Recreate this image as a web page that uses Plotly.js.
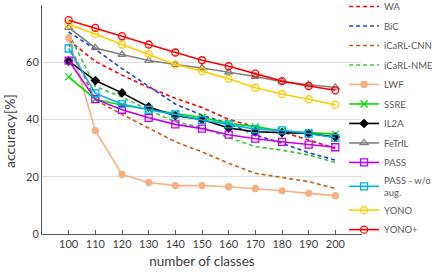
<!DOCTYPE html>
<html><head><meta charset="utf-8">
<script src="https://cdn.plot.ly/plotly-3.0.1.min.js"></script>
<style>html,body{margin:0;padding:0;background:#fff}#chart{width:432px;height:272px}</style>
</head><body><div id="chart"></div>
<script>
const classes = [100,110,120,130,140,150,160,170,180,190,200];
const WA       = [67.7,60.3,55.5,51.2,47.4,44.2,40.0,37.5,35.7,32.8,29.9];
const BiC      = [70.6,64.5,57.8,51.7,45.4,41.5,38.6,34.6,31.7,28.4,25.8];
const iCaRLCNN = [66.5,46.8,41.8,36.9,32.2,28.7,24.7,21.2,19.7,18.3,15.9];
const iCaRLNME = [70.0,51.5,47.9,43.3,39.2,37.2,33.7,30.5,29.3,27.6,25.0];
const LWF      = [68.5,36.1,20.8,18.0,16.9,16.9,16.5,15.9,15.1,14.2,13.4];
const SSRE     = [54.9,47.1,45.0,43.6,42.0,40.7,38.7,37.5,36.0,35.5,34.9];
const IL2A     = [60.4,53.6,49.3,44.4,41.3,40.0,37.0,35.7,35.4,35.1,33.9];
const FeTrIL   = [72.1,65.0,62.7,60.6,59.2,58.0,56.5,55.0,53.2,52.1,51.2];
const PASS     = [60.6,47.1,43.4,40.6,38.3,36.8,34.7,33.3,32.2,31.2,30.3];
const PASSwo   = [64.8,49.1,45.4,43.4,41.8,39.8,38.3,36.6,36.2,35.1,33.6];
const YONO     = [73.2,69.9,66.2,62.8,59.2,56.9,54.2,51.1,48.9,47.1,45.1];
const YONOp    = [74.7,72.0,69.1,66.2,63.4,60.7,58.6,56.0,53.4,51.7,50.2];

const series = [
  {name:'WA', y:WA, color:'#FF0000', dash:'4px,3px'},
  {name:'BiC', y:BiC, color:'#1F3FD8', dash:'4px,3px'},
  {name:'iCaRL-CNN', y:iCaRLCNN, color:'#C55A11', dash:'4px,3px'},
  {name:'iCaRL-NME', y:iCaRLNME, color:'#3CC43C', dash:'4px,3px'},
  {name:'LWF', y:LWF, color:'#F4B183', sym:'circle', size:6},
  {name:'SSRE', y:SSRE, color:'#00E000', sym:'x-thin-open', size:7},
  {name:'IL2A', y:IL2A, color:'#000000', sym:'diamond', size:6},
  {name:'FeTrIL', y:FeTrIL, color:'#808080', sym:'triangle-up-open', size:7},
  {name:'PASS', y:PASS, color:'#C000F0', sym:'square-open', size:7},
  {name:'PASS - w/o<br>aug.', y:PASSwo, color:'#00B0F0', sym:'square-open', size:7},
  {name:'YONO', y:YONO, color:'#FFCC00', sym:'circle-open', size:7},
  {name:'YONO+', y:YONOp, color:'#FF0000', sym:'circle-open', size:7}
];

const traces = series.map((s,i)=>{
  const t = {
    x: classes, y: s.y, name: s.name, type:'scatter', legendgroup:'g'+i,
    mode: s.sym ? 'lines+markers' : 'lines',
    line: {color:s.color, width:1.6, dash: s.dash || 'solid'}
  };
  if (s.sym) t.marker = {symbol:s.sym, size:s.size, color:s.color, line:{color:s.color, width:1.3}};
  return t;
});

const layout = {
  width:432, height:272,
  margin:{l:42, r:70, t:4.5, b:38, autoexpand:false},
  paper_bgcolor:'#fff', plot_bgcolor:'#fff',
  font:{family:'Lato, "Open Sans", sans-serif', color:'#595959', size:11},
  xaxis:{range:[90,210], tickvals:classes, ticks:'inside', ticklen:4, tickcolor:'#595959',
    showline:true, linecolor:'#595959', linewidth:1, showgrid:false, zeroline:false,
    minor:{tick0:90, dtick:10, ticks:'inside', ticklen:4, tickcolor:'#595959', showgrid:false},
    tickfont:{size:11, color:'#404040'},
    title:{text:'number of classes', font:{size:13.5, color:'#404040'}, standoff:7}},
  yaxis:{range:[0,80], dtick:20, showline:true, linecolor:'#595959', linewidth:1,
    gridcolor:'#DDDDDD', zeroline:false, ticks:'', tickfont:{size:11, color:'#404040'}},
  annotations:[{text:'accuracy[%]', textangle:-90, xref:'paper', yref:'paper',
    x:-0.104, y:0.449, xanchor:'center', yanchor:'middle', showarrow:false,
    font:{size:14, color:'#404040'}}],
  showlegend:true,
  legend:{x:0.944, xanchor:'left', y:1.057, yanchor:'top', font:{size:9.5, color:'#595959'},
    tracegroupgap:0.5, itemwidth:30, maxheight:1000, bgcolor:'rgba(0,0,0,0)'}
};
Plotly.newPlot('chart', traces, layout, {displayModeBar:false, staticPlot:true});
</script></body></html>
